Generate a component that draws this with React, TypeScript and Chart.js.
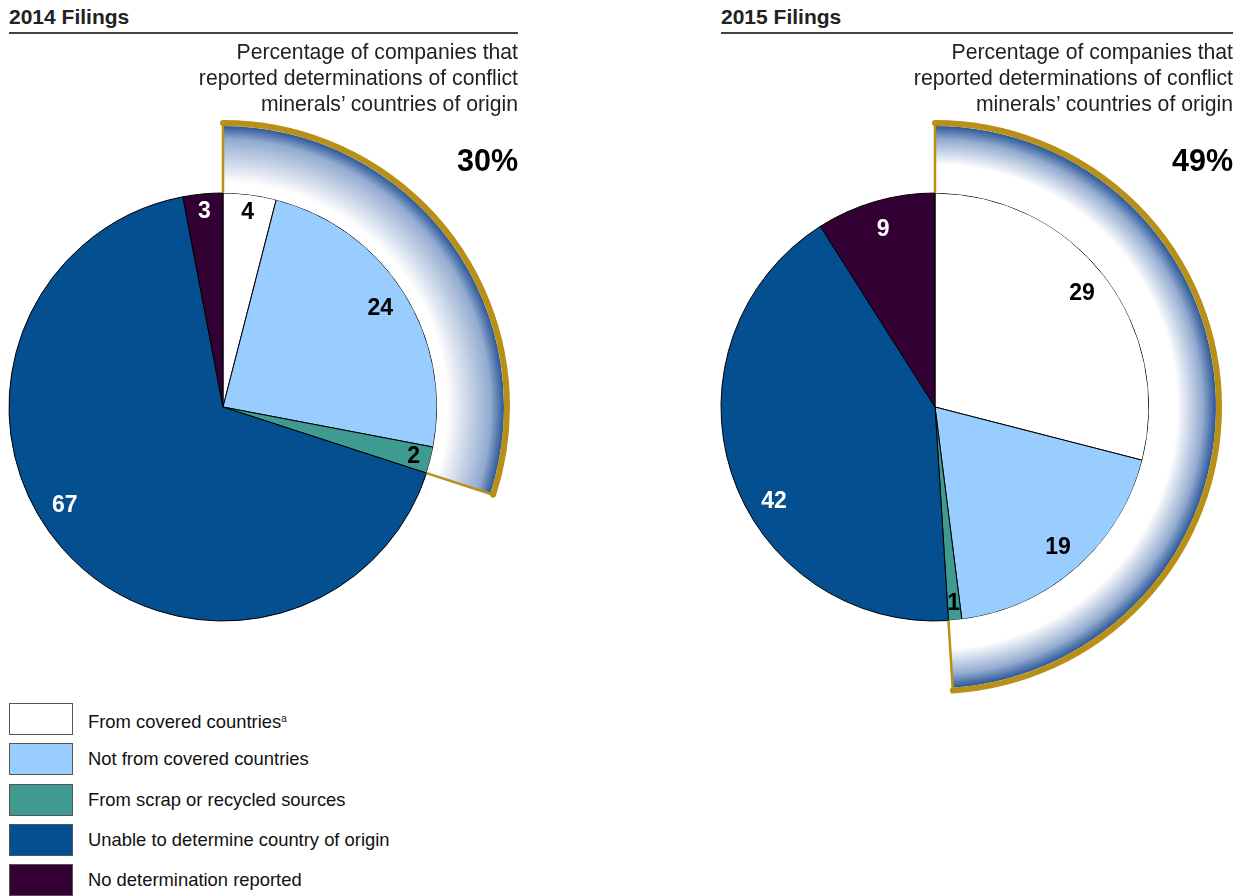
import React, { useEffect, useRef } from "react";
import { Chart, registerables } from "chart.js";

Chart.register(...registerables);

// ---------- data ----------
const CATEGORIES = [
  "From covered countries",
  "Not from covered countries",
  "From scrap or recycled sources",
  "Unable to determine country of origin",
  "No determination reported",
];
const SLICE_COLORS = ["#ffffff", "#99ccff", "#3f9a90", "#034f8f", "#330033"];
const LABEL_COLORS = ["#000000", "#000000", "#000000", "#ffffff", "#ffffff"];
const VALUES_2014 = [4, 24, 2, 67, 3];
const VALUES_2015 = [29, 19, 1, 42, 9];
const PANEL_TITLES = ["2014 Filings", "2015 Filings"];
const SUBTITLE_LINES = [
  "Percentage of companies that",
  "reported determinations of conflict",
  "minerals\u2019 countries of origin",
];
const REPORTED_GROUP_SIZE = 3; // first three categories = countries of origin determined

// ---------- styling ----------
const GOLD = "#b88f17";
const FONT = '"Liberation Sans", Arial, Helvetica, sans-serif';
const PIE_WEIGHT = 214;
const RING_WEIGHT = 67;
const CANVAS_SIZE = 584;
const CANVAS_PAD = 11;

type PieProps = {
  values: number[];
  left: number;
  top: number;
  whiteStop: number;
  labelAnchor: Record<number, number>;
};

function FilingPie({ values, left, top, whiteStop, labelAnchor }: PieProps) {
  const ref = useRef<HTMLCanvasElement>(null);

  useEffect(() => {
    const canvas = ref.current;
    if (!canvas) return;
    const total = values.reduce((a, b) => a + b, 0);
    const reported = values.slice(0, REPORTED_GROUP_SIZE).reduce((a, b) => a + b, 0);

    const ringFill = (c: any) => {
      if (c.dataIndex !== 0) return "rgba(0,0,0,0)";
      const chart = c.chart;
      const a = chart.chartArea;
      if (!a) return "#ffffff";
      const cx = (a.left + a.right) / 2;
      const cy = (a.top + a.bottom) / 2;
      const R = Math.min(a.right - a.left, a.bottom - a.top) / 2;
      const rIn = (R * PIE_WEIGHT) / (PIE_WEIGHT + RING_WEIGHT);
      const g = chart.ctx.createRadialGradient(cx, cy, rIn, cx, cy, R);
      g.addColorStop(0, "#ffffff");
      g.addColorStop(whiteStop, "#ffffff");
      g.addColorStop(0.8, "#93abd0");
      g.addColorStop(1, "#2c5897");
      return g;
    };

    const overlay = {
      id: "overlay",
      afterDatasetsDraw(chart: any) {
        const ctx = chart.ctx;
        const ring = chart.getDatasetMeta(0).data[0];
        const p = ring.getProps(["x", "y", "startAngle", "endAngle", "innerRadius", "outerRadius"], true);
        ctx.save();
        // radial gold edges
        ctx.strokeStyle = GOLD;
        ctx.lineWidth = 2.5;
        ctx.beginPath();
        [p.startAngle, p.endAngle].forEach((ang: number) => {
          ctx.moveTo(p.x + Math.cos(ang) * p.innerRadius, p.y + Math.sin(ang) * p.innerRadius);
          ctx.lineTo(p.x + Math.cos(ang) * (p.outerRadius + 3), p.y + Math.sin(ang) * (p.outerRadius + 3));
        });
        ctx.stroke();
        // thick outer gold arc
        ctx.lineWidth = 6;
        ctx.lineCap = "round";
        ctx.beginPath();
        ctx.arc(p.x, p.y, p.outerRadius + 3, p.startAngle, p.endAngle);
        ctx.stroke();

        // value labels
        const pieMeta = chart.getDatasetMeta(1);
        ctx.font = `bold 23px ${FONT}`;
        ctx.textAlign = "center";
        ctx.textBaseline = "middle";
        pieMeta.data.forEach((arc: any, i: number) => {
          const a = arc.getProps(["x", "y", "startAngle", "endAngle", "outerRadius"], true);
          const span = a.endAngle - a.startAngle;
          const frac = labelAnchor[i] ?? 0.5;
          const ang = a.startAngle + span * frac;
          const rf = span < 0.3 ? 0.92 : 0.87;
          const r = a.outerRadius * rf;
          ctx.fillStyle = LABEL_COLORS[i];
          ctx.fillText(String(values[i]), a.x + Math.cos(ang) * r, a.y + Math.sin(ang) * r + 1);
        });
        ctx.restore();
      },
    };

    const chart = new Chart(canvas, {
      type: "pie",
      data: {
        labels: CATEGORIES,
        datasets: [
          {
            data: [reported, total - reported],
            backgroundColor: ringFill as any,
            borderWidth: 0,
            hoverBorderWidth: 0,
            weight: RING_WEIGHT,
          } as any,
          {
            data: values,
            backgroundColor: SLICE_COLORS,
            borderColor: "#000000",
            borderWidth: 1,
            hoverBorderWidth: 1,
            weight: PIE_WEIGHT,
          } as any,
        ],
      },
      options: {
        responsive: false,
        maintainAspectRatio: false,
        animation: false,
        events: [],
        layout: { padding: CANVAS_PAD },
        plugins: {
          legend: { display: false },
          tooltip: { enabled: false },
        },
      },
      plugins: [overlay],
    });
    return () => chart.destroy();
  }, [values, whiteStop, labelAnchor]);

  return (
    <canvas
      ref={ref}
      width={CANVAS_SIZE}
      height={CANVAS_SIZE}
      style={{ position: "absolute", left, top, width: CANVAS_SIZE, height: CANVAS_SIZE }}
    />
  );
}

function PanelText({ title, pct, x0, x1 }: { title: string; pct: number; x0: number; x1: number }) {
  return (
    <>
      <div
        style={{
          position: "absolute",
          left: x0,
          top: 5,
          fontFamily: FONT,
          fontWeight: "bold",
          fontSize: 21,
          lineHeight: "24px",
          color: "#222",
          whiteSpace: "nowrap",
        }}
      >
        {title}
      </div>
      <div style={{ position: "absolute", left: x0, top: 32, width: x1 - x0, height: 1.5, background: "#444" }} />
      <div
        style={{
          position: "absolute",
          left: x0,
          top: 39,
          width: x1 - x0,
          textAlign: "right",
          fontFamily: FONT,
          fontSize: 21.2,
          lineHeight: "26px",
          color: "#222",
          whiteSpace: "nowrap",
        }}
      >
        {SUBTITLE_LINES.map((l) => (
          <div key={l}>{l}</div>
        ))}
      </div>
      <div
        style={{
          position: "absolute",
          left: x0,
          top: 142,
          width: x1 - x0,
          textAlign: "right",
          fontFamily: FONT,
          fontWeight: "bold",
          fontSize: 30.5,
          lineHeight: "36px",
          color: "#000",
        }}
      >
        {pct}%
      </div>
    </>
  );
}

const ANCHOR_2014: Record<number, number> = { 3: 0.54 };
const ANCHOR_2015: Record<number, number> = { 3: 0.42 };

export default function App() {
  const pct2014 = VALUES_2014.slice(0, REPORTED_GROUP_SIZE).reduce((a, b) => a + b, 0);
  const pct2015 = VALUES_2015.slice(0, REPORTED_GROUP_SIZE).reduce((a, b) => a + b, 0);
  const half = CANVAS_SIZE / 2;
  return (
    <div
      style={{
        position: "absolute",
        left: 0,
        top: 0,
        width: 1236,
        height: 896,
        overflow: "hidden",
        background: "#ffffff",
        fontFamily: FONT,
      }}
    >
      <FilingPie values={VALUES_2014} left={223 - half} top={407 - half} whiteStop={0.15} labelAnchor={ANCHOR_2014} />
      <FilingPie values={VALUES_2015} left={935 - half} top={407 - half} whiteStop={0.42} labelAnchor={ANCHOR_2015} />
      <PanelText title={PANEL_TITLES[0]} pct={pct2014} x0={9} x1={518} />
      <PanelText title={PANEL_TITLES[1]} pct={pct2015} x0={721} x1={1233} />
      {CATEGORIES.map((c, i) => {
        const top = 703 + i * 40.3;
        return (
          <React.Fragment key={c}>
            <div
              style={{
                position: "absolute",
                left: 9,
                top,
                width: 62,
                height: 30,
                background: SLICE_COLORS[i],
                border: "1.5px solid #555",
              }}
            />
            <div
              style={{
                position: "absolute",
                left: 88,
                top: top + 4,
                fontFamily: FONT,
                fontSize: 18.4,
                lineHeight: "24px",
                color: "#111",
                whiteSpace: "nowrap",
              }}
            >
              {c}
              {i === 0 ? <sup style={{ fontSize: 10, verticalAlign: "6px" }}>a</sup> : null}
            </div>
          </React.Fragment>
        );
      })}
    </div>
  );
}
